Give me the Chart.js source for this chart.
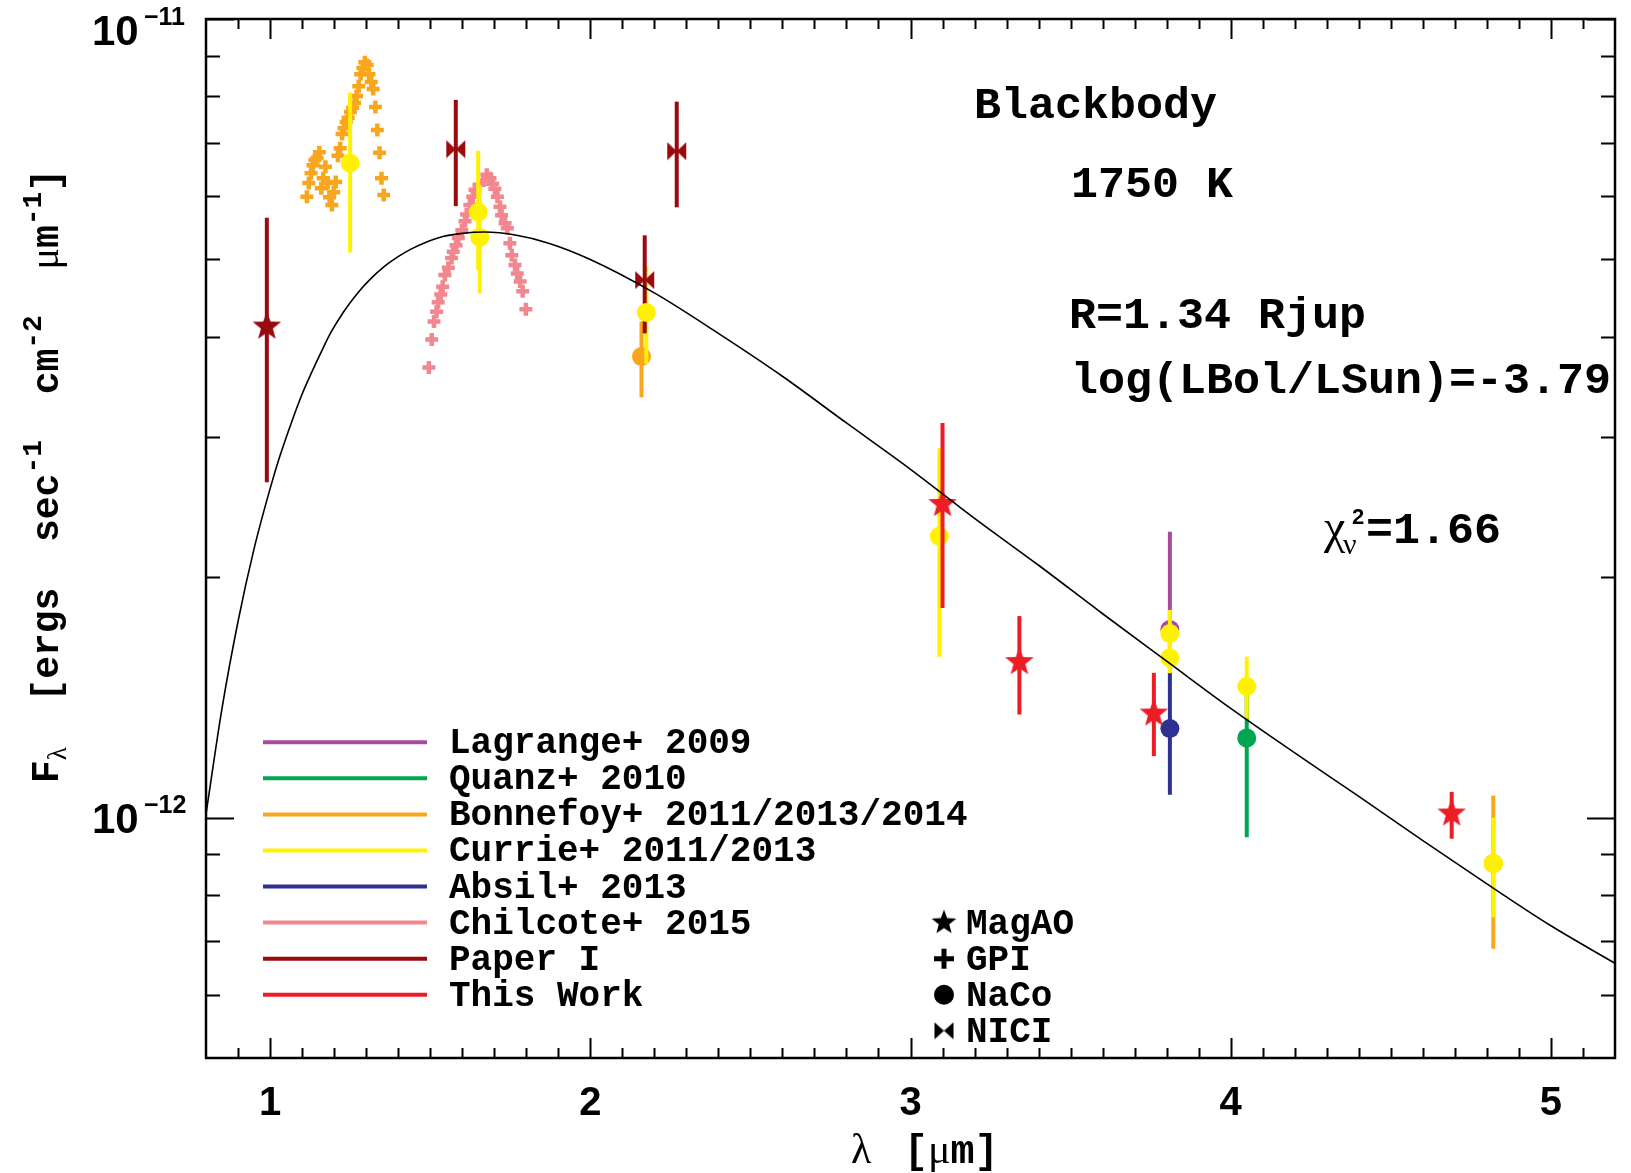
<!DOCTYPE html>
<html>
<head>
<meta charset="utf-8">
<script src="https://cdn.jsdelivr.net/npm/chart.js@4.4.1/dist/chart.umd.min.js"></script>
<style>
  html, body { margin: 0; padding: 0; background: #ffffff; }
  #wrap { width: 1631px; height: 1173px; position: relative; }
  canvas { display: block; }
</style>
</head>
<body>
<div id="wrap"><canvas id="sed" width="1631" height="1173" style="width:1631px;height:1173px"></canvas></div>
<script>
// Fluxes are given in units of 1e-12 ergs s^-1 cm^-2 um^-1
const UNIT = 1e-12;

// Axis ticks
const xMajorTicks = [1, 2, 3, 4, 5];
const yMajorTicks = [1e-12, 1e-11];
const yMinorTicks = [6e-13, 7e-13, 8e-13, 9e-13, 2e-12, 3e-12, 4e-12, 5e-12, 6e-12, 7e-12, 8e-12, 9e-12];

// Blackbody model, 1750 K
const bbWave = [0.80, 0.85, 0.90, 0.95, 1.00, 1.03, 1.07, 1.10, 1.13, 1.16, 1.19, 1.23, 1.27, 1.31, 1.36, 1.40,
                1.44, 1.48, 1.54, 1.60, 1.67, 1.77, 1.87, 2.00, 2.20, 2.40, 2.60, 2.80, 3.00, 3.20, 3.40, 3.60,
                3.80, 4.00, 4.20, 4.40, 4.60, 4.80, 5.00, 5.20];
const bbFlux = [1.01, 1.37, 1.76, 2.17, 2.58, 2.83, 3.15, 3.39, 3.61, 3.83, 4.05, 4.30, 4.52, 4.71, 4.91, 5.04,
                5.15, 5.24, 5.34, 5.39, 5.41, 5.36, 5.24, 5.00, 4.54, 4.04, 3.57, 3.12, 2.73, 2.37, 2.07, 1.80,
                1.57, 1.37, 1.205, 1.063, 0.936, 0.826, 0.732, 0.657];

// GPI J-band spectrum (Bonnefoy+ 2014)
const gpiJWave = [1.115, 1.121, 1.128, 1.134, 1.140, 1.147, 1.154, 1.160, 1.166, 1.173, 1.180, 1.186, 1.193,
                  1.199, 1.205, 1.212, 1.219, 1.225, 1.231, 1.238, 1.244, 1.251, 1.258, 1.264, 1.270, 1.277,
                  1.283, 1.290, 1.296, 1.303, 1.309, 1.316, 1.322, 1.329, 1.335, 1.342, 1.348, 1.355];
const gpiJFlux = [5.99, 6.23, 6.41, 6.56, 6.66, 6.70, 6.81, 6.14, 6.32, 6.53, 6.23, 5.98, 5.85,
                  6.07, 6.25, 6.74, 6.89, 7.18, 7.30, 7.43, 7.52, 7.65, 7.74, 7.85, 8.01, 8.24,
                  8.53, 8.68, 8.83, 8.76, 8.53, 8.34, 8.17, 7.76, 7.26, 6.80, 6.32, 6.02];

// GPI H-band spectrum (Chilcote+ 2015)
const gpiHWave = [1.496, 1.505, 1.512, 1.520, 1.525, 1.533, 1.539, 1.546, 1.557, 1.567, 1.572, 1.581, 1.588,
                  1.599, 1.609, 1.614, 1.624, 1.633, 1.640, 1.653, 1.666, 1.677, 1.687, 1.695, 1.702, 1.710,
                  1.718, 1.723, 1.734, 1.741, 1.749, 1.755, 1.765, 1.772, 1.781, 1.789, 1.799];
const gpiHFlux = [3.66, 3.97, 4.18, 4.30, 4.42, 4.52, 4.62, 4.78, 4.88, 5.02, 5.11, 5.21, 5.32,
                  5.44, 5.58, 5.69, 5.85, 5.99, 6.11, 6.20, 6.28, 6.38, 6.32, 6.22, 6.13, 5.99,
                  5.82, 5.68, 5.55, 5.47, 5.24, 5.06, 4.92, 4.80, 4.69, 4.56, 4.33];

// Photometry: wavelength, flux, lower / upper end of the error bar
const lagrangeWave = [3.81];
const lagrangeFlux = [1.72];
const lagrangeLow  = [1.53];
const lagrangeHigh = [2.28];

const quanzWave = [4.05];
const quanzFlux = [1.258];
const quanzLow  = [0.945];
const quanzHigh = [1.45];

const bonnefoyWave = [2.16, 4.82];
const bonnefoyFlux = [3.78, 0.876];
const bonnefoyLow  = [3.36, 0.685];
const bonnefoyHigh = [4.18, 1.066];

const currieWave = [1.25, 1.65, 1.655, 2.175, 3.09, 3.81, 3.81, 4.05, 4.82];
const currieFlux = [6.60, 5.73, 5.33, 4.29, 2.25, 1.70, 1.585, 1.46, 0.876];
const currieLow  = [5.10, 4.85, 4.53, 3.70, 1.59, 1.60, 1.516, 1.33, 0.750];
const currieHigh = [8.09, 6.84, 6.20, 4.90, 2.90, 1.82, 1.66, 1.59, 1.00];

const absilWave = [3.81];
const absilFlux = [1.293];
const absilLow  = [1.068];
const absilHigh = [1.52];

const paperIWave = [0.99, 1.58, 2.17, 2.27];
const paperIFlux = [4.12, 6.87, 4.71, 6.83];
const paperILow  = [2.63, 5.83, 4.04, 5.81];
const paperIHigh = [5.64, 7.92, 5.36, 7.88];
const paperIInst = ['MagAO', 'NICI', 'NICI', 'NICI'];

const thisWorkWave = [3.10, 3.34, 3.76, 4.69];
const thisWorkFlux = [2.47, 1.566, 1.35, 1.012];
const thisWorkLow  = [1.83, 1.346, 1.194, 0.941];
const thisWorkHigh = [3.12, 1.788, 1.518, 1.077];

// Legend entries
const refLabels = ['Lagrange+ 2009', 'Quanz+ 2010', 'Bonnefoy+ 2011/2013/2014', 'Currie+ 2011/2013',
                   'Absil+ 2013', 'Chilcote+ 2015', 'Paper I', 'This Work'];
const instLabels = ['MagAO', 'GPI', 'NaCo', 'NICI'];

const COL = {
  lagrange: '#A54C9E',
  quanz: '#00A651',
  bonnefoy: '#F8A61E',
  currie: '#FFF200',
  absil: '#2E3192',
  chilcote: '#F2878F',
  paperI: '#990A0F',
  thisWork: '#EE1C25'
};
const refColors = [COL.lagrange, COL.quanz, COL.bonnefoy, COL.currie, COL.absil, COL.chilcote, COL.paperI, COL.thisWork];

// ---- marker glyphs ----
function makeStar(color, R) {
  const s = Math.ceil(2 * R + 4);
  const c = document.createElement('canvas');
  c.width = s; c.height = s;
  const g = c.getContext('2d');
  g.translate(s / 2, s / 2);
  g.beginPath();
  for (let i = 0; i < 10; i++) {
    const r = (i % 2) ? R * 0.42 : R;
    const a = -Math.PI / 2 + i * Math.PI / 5;
    g.lineTo(r * Math.cos(a), r * Math.sin(a));
  }
  g.closePath();
  g.fillStyle = color;
  g.fill();
  return c;
}
function makeBowtie(color, w, h) {
  const c = document.createElement('canvas');
  c.width = w + 2; c.height = h + 2;
  const g = c.getContext('2d');
  g.translate(c.width / 2, c.height / 2);
  g.fillStyle = color;
  g.beginPath();
  g.moveTo(-w / 2, -h / 2); g.lineTo(0, 0); g.lineTo(-w / 2, h / 2); g.closePath();
  g.moveTo(w / 2, -h / 2); g.lineTo(0, 0); g.lineTo(w / 2, h / 2); g.closePath();
  g.fill();
  return c;
}
const paperIMarks = { MagAO: makeStar(COL.paperI, 15), NICI: makeBowtie(COL.paperI, 19, 18) };
const thisWorkStar = makeStar(COL.thisWork, 15);

// ---- dataset builders ----
const pts = (w, f) => w.map((x, i) => ({ x: x, y: f[i] * UNIT }));

function errorBars(wave, lo, hi, color) {
  return wave.map((x, i) => ({
    type: 'line',
    data: [{ x: x, y: lo[i] * UNIT }, { x: x, y: hi[i] * UNIT }],
    borderColor: color,
    borderWidth: 4,
    borderCapStyle: 'butt',
    pointRadius: 0,
    showLine: true,
    fill: false
  }));
}
function circles(wave, flux, color) {
  return {
    type: 'line', data: pts(wave, flux), showLine: false,
    pointStyle: 'circle', pointRadius: 9.5, pointBackgroundColor: color,
    pointBorderColor: color, pointBorderWidth: 0
  };
}
function crosses(wave, flux, color) {
  return {
    type: 'line', data: pts(wave, flux), showLine: false,
    pointStyle: 'cross', pointRadius: 6.5, pointBorderColor: color,
    pointBackgroundColor: color, pointBorderWidth: 4.5
  };
}
function images(wave, flux, marks) {
  return {
    type: 'line', data: pts(wave, flux), showLine: false,
    pointStyle: marks, pointRadius: 8, pointBorderWidth: 0
  };
}

// layers from bottom to top
const layers = [
  crosses(gpiHWave, gpiHFlux, COL.chilcote),
  crosses(gpiJWave, gpiJFlux, COL.bonnefoy),
  ...errorBars(lagrangeWave, lagrangeLow, lagrangeHigh, COL.lagrange),
  ...errorBars(bonnefoyWave, bonnefoyLow, bonnefoyHigh, COL.bonnefoy),
  circles(lagrangeWave, lagrangeFlux, COL.lagrange),
  circles(bonnefoyWave, bonnefoyFlux, COL.bonnefoy),
  ...errorBars(absilWave, absilLow, absilHigh, COL.absil),
  ...errorBars(quanzWave, quanzLow, quanzHigh, COL.quanz),
  circles(absilWave, absilFlux, COL.absil),
  circles(quanzWave, quanzFlux, COL.quanz),
  ...errorBars(currieWave, currieLow, currieHigh, COL.currie),
  ...errorBars(paperIWave, paperILow, paperIHigh, COL.paperI),
  circles(currieWave, currieFlux, COL.currie),
  ...errorBars(thisWorkWave, thisWorkLow, thisWorkHigh, COL.thisWork),
  images(paperIWave, paperIFlux, paperIInst.map(k => paperIMarks[k])),
  images(thisWorkWave, thisWorkFlux, thisWorkWave.map(() => thisWorkStar)),
  {
    type: 'line', data: pts(bbWave, bbFlux), borderColor: '#000000', borderWidth: 1.6,
    pointRadius: 0, cubicInterpolationMode: 'monotone', fill: false
  }
];
layers.forEach((d, i) => { d.order = layers.length - i; });

// ---- text helpers ----
const MONO = '"Liberation Mono", "DejaVu Sans Mono", monospace';
const SANS = '"Liberation Sans", Arial, sans-serif';
const SERIF = '"Liberation Serif", "DejaVu Serif", serif';

function drawRuns(ctx, parts, x, y) {
  let cx = x;
  for (const [t, f, dy] of parts) {
    ctx.font = f;
    ctx.fillText(t, cx, y + (dy || 0));
    cx += ctx.measureText(t).width;
  }
  return cx - x;
}
function runsWidth(ctx, parts) {
  let w = 0;
  for (const [t, f] of parts) { ctx.font = f; w += ctx.measureText(t).width; }
  return w;
}

const decorations = {
  id: 'sedDecorations',
  afterDraw(chart) {
    const ctx = chart.ctx;
    const xs = chart.scales.x, ys = chart.scales.y;
    const a = chart.chartArea;
    ctx.save();
    ctx.fillStyle = '#000';
    ctx.strokeStyle = '#000';

    // inward ticks on all four sides
    ctx.lineWidth = 2;
    ctx.beginPath();
    for (let k = 9; k <= 51; k++) {
      const v = k / 10;
      const px = Math.round(xs.getPixelForValue(v)) + 0.5;
      const len = (k % 10 === 0) ? 20 : 10;
      ctx.moveTo(px, a.bottom); ctx.lineTo(px, a.bottom - len);
      ctx.moveTo(px, a.top); ctx.lineTo(px, a.top + len);
    }
    const yAll = yMajorTicks.map(v => [v, 28]).concat(yMinorTicks.map(v => [v, 14]));
    for (const [v, len] of yAll) {
      const py = Math.round(ys.getPixelForValue(v)) + 0.5;
      ctx.moveTo(a.left, py); ctx.lineTo(a.left + len, py);
      ctx.moveTo(a.right, py); ctx.lineTo(a.right - len, py);
    }
    ctx.stroke();

    // frame
    ctx.lineWidth = 2.5;
    ctx.strokeRect(a.left, a.top, a.right - a.left, a.bottom - a.top);

    // x tick labels
    ctx.textAlign = 'center';
    ctx.textBaseline = 'alphabetic';
    ctx.font = 'bold 40px ' + SANS;
    for (const v of xMajorTicks) {
      ctx.fillText(String(v), xs.getPixelForValue(v), a.bottom + 57);
    }

    // y tick labels 10^n
    ctx.textAlign = 'left';
    for (const v of yMajorTicks) {
      const py = ys.getPixelForValue(v);
      const base = Math.max(py + 15, a.top + 26);
      const exp = Math.round(Math.log10(v));
      ctx.font = 'bold 42px ' + SANS;
      ctx.fillText('10', 92, base);
      ctx.font = 'bold 25px ' + SANS;
      ctx.fillText('\u2212' + String(-exp), 144, base - 20);
    }

    // x axis title
    ctx.font = '42px ' + SERIF;
    ctx.fillText('\u03BB', 851, 1163);
    drawRuns(ctx, [['[', 'bold 40px ' + MONO, 0], ['\u03BC', '42px ' + SERIF, 0], ['m]', 'bold 40px ' + MONO, 0]], 904, 1163);

    // y axis title (rotated)
    const M = 'bold 38px ' + MONO, S = 'bold 28px ' + MONO;
    const yParts = [['F', M, 0], ['\u03BB', '27px ' + SERIF, 8], ['  [ergs  sec', M, 0], ['-1', S, -17],
                    ['  cm', M, 0], ['-2', S, -17], ['  ', M, 0], ['\u03BC', '40px ' + SERIF, 0], ['m', M, 0],
                    ['-1', S, -17], [']', M, 0]];
    const yw = runsWidth(ctx, yParts);
    ctx.save();
    ctx.translate(58, 476);
    ctx.rotate(-Math.PI / 2);
    drawRuns(ctx, yParts, -yw / 2, 0);
    ctx.restore();

    // model annotations
    const A = 'bold 45px ' + MONO;
    ctx.font = A;
    ctx.fillText('Blackbody', 974, 118);
    ctx.fillText('1750 K', 1071, 197);
    ctx.fillText('R=1.34 Rjup', 1069, 328);
    ctx.fillText('log(LBol/LSun)=-3.79', 1071, 393);
    ctx.font = '48px ' + SERIF;
    ctx.fillText('\u03C7', 1324, 543);
    ctx.font = 'bold 22px ' + SANS;
    ctx.fillText('2', 1352, 524);
    ctx.font = '30px ' + SERIF;
    ctx.fillText('\u03BD', 1343, 554);
    ctx.font = A;
    ctx.fillText('=1.66', 1366, 543);

    // reference legend
    const L = 'bold 36px ' + MONO;
    const row0 = 742.3, dRow = 36.06;
    ctx.lineWidth = 4;
    refLabels.forEach((lab, i) => {
      const ry = row0 + i * dRow;
      ctx.strokeStyle = refColors[i];
      ctx.beginPath(); ctx.moveTo(263, ry); ctx.lineTo(427, ry); ctx.stroke();
      ctx.font = L;
      ctx.fillStyle = '#000';
      ctx.fillText(lab, 449, ry + 11);
    });

    // instrument legend
    const symX = 944;
    instLabels.forEach((lab, i) => {
      const ry = row0 + (i + 5) * dRow;
      ctx.fillStyle = '#000';
      ctx.strokeStyle = '#000';
      if (lab === 'MagAO') {
        const st = makeStar('#000', 13);
        ctx.drawImage(st, symX - st.width / 2, ry - st.height / 2);
      } else if (lab === 'GPI') {
        ctx.lineWidth = 5;
        ctx.beginPath();
        ctx.moveTo(symX - 10, ry); ctx.lineTo(symX + 10, ry);
        ctx.moveTo(symX, ry - 10); ctx.lineTo(symX, ry + 10);
        ctx.stroke();
      } else if (lab === 'NaCo') {
        ctx.beginPath(); ctx.arc(symX, ry, 10, 0, Math.PI * 2); ctx.fill();
      } else {
        const bt = makeBowtie('#000', 19, 17);
        ctx.drawImage(bt, symX - bt.width / 2, ry - bt.height / 2);
      }
      ctx.font = L;
      ctx.fillText(lab, 966, ry + 11);
    });

    ctx.restore();
  }
};

new Chart(document.getElementById('sed'), {
  type: 'line',
  data: { datasets: layers },
  options: {
    responsive: false,
    devicePixelRatio: 1,
    animation: false,
    layout: { padding: { left: 206, right: 16, top: 19, bottom: 115 } },
    scales: {
      x: { type: 'linear', min: 0.8, max: 5.2, display: false },
      y: { type: 'logarithmic', min: 5e-13, max: 1e-11, display: false }
    },
    plugins: { legend: { display: false }, tooltip: { enabled: false } }
  },
  plugins: [decorations]
});
</script>
</body>
</html>
